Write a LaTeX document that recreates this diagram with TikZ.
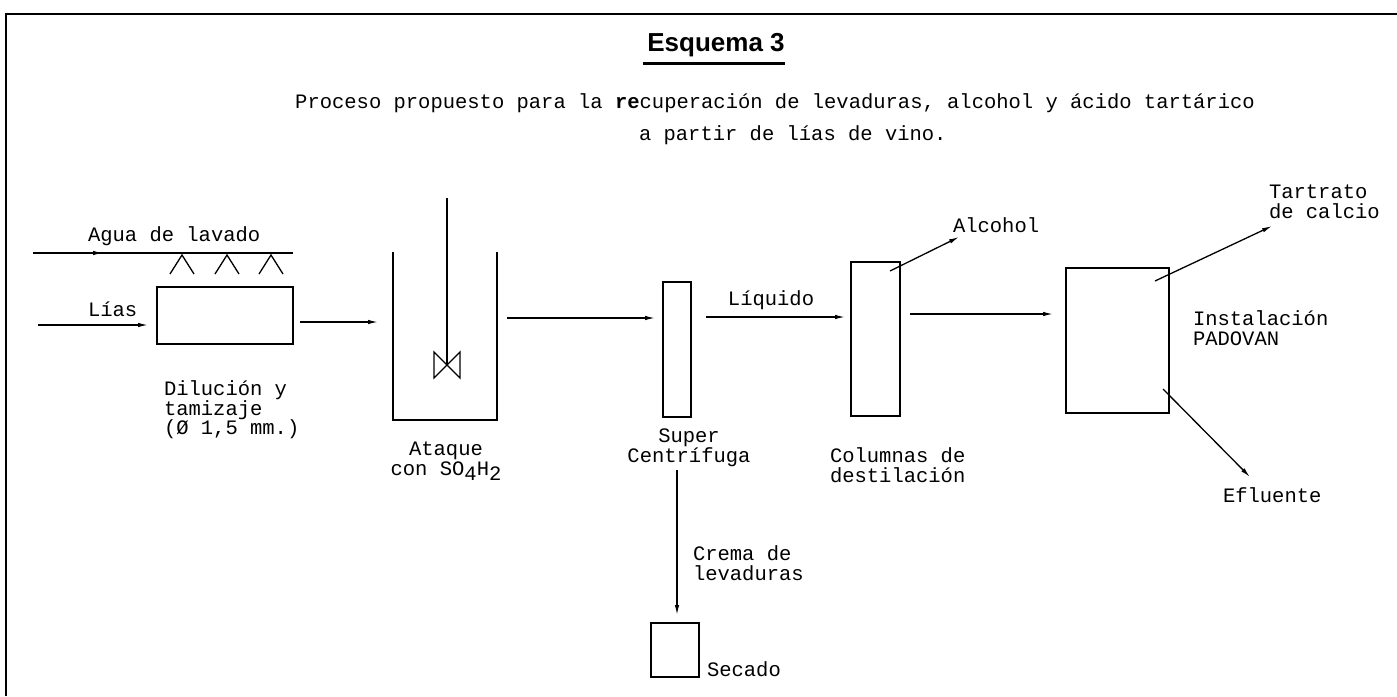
\documentclass[tikz,border=0pt]{standalone}
\usepackage{fontspec}
\setmainfont{Liberation Mono}
\newfontfamily\titlefont{Liberation Sans}
\usetikzlibrary{arrows.meta}
\begin{document}
\begin{tikzpicture}[x=1pt,y=-1pt,
  every node/.style={inner sep=0pt, outer sep=0pt},
  txt/.style={font=\fontsize{20.5}{19.5}\selectfont, align=left},
  ctxt/.style={font=\fontsize{20.5}{19.5}\selectfont, align=center},
  head/.style={font=\fontsize{20.5}{22}\selectfont},
  box/.style={draw, line width=1.3pt},
  flow/.style={line width=1.3pt, -{Latex[length=10pt,width=4.5pt]}},
  pipe/.style={line width=1.3pt},
  frame/.style={line width=2.5pt}]
\useasboundingbox (0,0) rectangle (1397,696);
% frame
\coordinate (fl) at (6,696);
\coordinate (fc) at (6,14);
\coordinate (fr) at (1397,14);
\draw[frame] (fl) -- (fc) -- (fr);
% title
\node[font=\titlefont\fontsize{26}{30}\selectfont\bfseries] (title) at (716,45) {Esquema 3};
\coordinate (ul) at (643,63);
\draw[line width=3pt] (ul) -- (ul -| title.east);
\node[head] (sub1) at (775,103) {Proceso propuesto para la \textbf{re}cuperación de levaduras, alcohol y ácido tartárico};
\node[head, anchor=west] (sub2) at (639,135) {a partir de lías de vino.};
% dilution box
\node[box, minimum width=136pt, minimum height=57pt] (dil) at (225,315.5) {};
\coordinate (w0) at (33,253);
\coordinate (w1) at (293,253);
\draw[pipe] (w0) -- (w1);
\draw[flow] (w0) -- ([xshift=70pt]w0);
\foreach \cx in {182,227,271}{
  \draw[pipe] (\cx-12,274) -- (\cx,255) -- (\cx+12,274);
}
\node[txt, anchor=west] (agua) at (88,236) {Agua de lavado};
\node[txt, anchor=west] (lias) at (88,309) {Lías};
\coordinate (liasin) at (38,325);
\draw[flow, shorten >=9pt] (liasin) -- (liasin -| dil.west);
\node[txt, anchor=west] (dillab) at (164,410) {Dilución y\\tamizaje\\(Ø 1,5 mm.)};
% tank
\node[minimum width=104pt, minimum height=168pt] (tank) at (445,336) {};
\draw[pipe] (tank.north west) -- (tank.south west) -- (tank.south east) -- (tank.north east);
\coordinate (shafttop) at (447,198);
\node[minimum size=26pt] (imp) at (447,365) {};
\draw[pipe] (shafttop) -- (imp.center);
\draw[pipe] (imp.north west) -- (imp.south east) -- (imp.north east) -- (imp.south west) -- cycle;
\draw[flow, shorten <=7pt, shorten >=15pt] ([yshift=-6.5pt]dil.east) -- ([yshift=-6.5pt]dil.east -| tank.west);
\node[ctxt] (tanklab) at (446,461) {Ataque\\con SO\raisebox{-5pt}{4}H\raisebox{-5pt}{2}};
% centrifuge
\node[box, minimum width=28pt, minimum height=135pt] (cent) at (677,349.5) {};
\draw[flow, shorten <=10pt, shorten >=8pt] ([yshift=18pt]tank.east) -- ([yshift=18pt]tank.east -| cent.west);
\node[ctxt] (centlab) at (689,448) {Super\\Centrífuga};
% column
\node[box, minimum width=49pt, minimum height=154pt] (col) at (875.5,339) {};
\draw[flow, shorten <=15pt, shorten >=6pt] ([yshift=32.5pt]cent.east) -- ([yshift=32.5pt]cent.east -| col.west);
\node[txt] (liq) at (771,300) {Líquido};
\node[txt, anchor=west] (collab) at (830,465) {Columnas de\\destilación};
\coordinate (alc) at (959,237);
\draw[flow] ([xshift=-10pt,yshift=-9pt]col.north east) -- (alc);
\node[txt, anchor=west] (alclab) at (953,225) {Alcohol};
% secado
\node[box, minimum width=48pt, minimum height=54pt] (sec) at (675,650) {};
\draw[flow, shorten <=53pt, shorten >=8pt] (cent.south) -- (cent.south |- sec.north);
\node[txt, anchor=west] (crema) at (693,563) {Crema de\\levaduras};
\node[txt, anchor=west] (seclab) at (707,669) {Secado};
% padovan
\node[box, minimum width=103pt, minimum height=145pt] (pad) at (1117.5,340.5) {};
\draw[flow, shorten <=10pt, shorten >=13pt] ([yshift=25pt]col.east) -- ([yshift=25pt]col.east -| pad.west);
\coordinate (tart) at (1272,226);
\draw[flow] ([xshift=-14pt,yshift=-13pt]pad.north east) -- (tart);
\node[txt, anchor=west] (tartlab) at (1269,202) {Tartrato\\de calcio};
\coordinate (efl) at (1250,477);
\draw[flow] ([xshift=-6pt,yshift=24pt]pad.south east) -- (efl);
\node[txt, anchor=west] (efllab) at (1223,495) {Efluente};
\node[txt, anchor=west] (padlab) at (1193,328) {Instalación\\PADOVAN};
\end{tikzpicture}
\end{document}
